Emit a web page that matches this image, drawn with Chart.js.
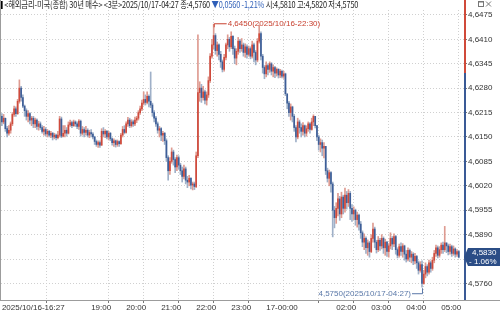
<!DOCTYPE html>
<html>
<head>
<meta charset="utf-8">
<script src="https://cdn.jsdelivr.net/npm/chart.js@4.4.1/dist/chart.umd.min.js"></script>
<style>
html, body { margin: 0; padding: 0; background: #fff; }
#wrap { position: relative; width: 500px; height: 314px; overflow: hidden; }
#title { position: absolute; left: 1px; top: 0px; font: 9px 'Noto Sans CJK KR', sans-serif; color: #222; white-space: nowrap; line-height: 10px; letter-spacing: -0.2px; transform: scaleX(0.815); transform-origin: 0 0; }
#title .mark { display: inline-block; width: 2px; height: 8px; background: #000; margin-right: 2px; vertical-align: -1px; }
#title .dn { color: #2f5fb8; }
</style>
</head>
<body>
<div id="wrap">
  <canvas id="chart" width="500" height="314"></canvas>
  <div id="title"><span class="mark"></span>&lt;해외금리-미국(종합) 30년 매수&gt; &lt;3분&gt;2025/10/17-04:27 종:4,5760 <span class="dn">▼0,0560 -1,21%</span> 시:4,5810 고:4,5820 저:4,5750</div>
</div>
<script>
/* 3-minute candles, 2025/10/16 16:27 onward (one row ~ 10 bars) */

const firstOpen = 4.6205;
const prevClose = 4.6320; // yesterday's close, axis turns red above / blue below
const lastChange = '- 1.06%';
const maxTime = '2025/10/16-22:30';
const minTime = '2025/10/17-04:27';

const closes = [
    4.6190, 4.6200, 4.6172, 4.6160, 4.6168, 4.6185, 4.6210, 4.6225, 4.6212, 4.6245, 4.6280,
    4.6255, 4.6232, 4.6220, 4.6205, 4.6212, 4.6195, 4.6200, 4.6185, 4.6195, 4.6178,
    4.6185, 4.6175, 4.6165, 4.6170, 4.6158, 4.6165, 4.6155, 4.6160, 4.6150, 4.6155,
    4.6148, 4.6155, 4.6198, 4.6152, 4.6160, 4.6168, 4.6160, 4.6182, 4.6188, 4.6180,
    4.6190, 4.6185, 4.6178, 4.6192, 4.6160, 4.6170, 4.6162, 4.6168, 4.6155, 4.6162,
    4.6158, 4.6150, 4.6138, 4.6130, 4.6135, 4.6128, 4.6165, 4.6158, 4.6165, 4.6150,
    4.6160, 4.6145, 4.6135, 4.6140, 4.6130, 4.6138, 4.6132, 4.6155, 4.6170, 4.6162,
    4.6185, 4.6195, 4.6180, 4.6190, 4.6185, 4.6195, 4.6200, 4.6215, 4.6225, 4.6240,
    4.6250, 4.6242, 4.6258, 4.6245, 4.6235, 4.6215, 4.6200, 4.6185, 4.6168, 4.6172,
    4.6155, 4.6160, 4.6140, 4.6095, 4.6060, 4.6085, 4.6110, 4.6090, 4.6070, 4.6095,
    4.6075, 4.6060, 4.6045, 4.6065, 4.6035, 4.6030, 4.6040, 4.6022, 4.6025, 4.6018,
    4.6100, 4.6268, 4.6280, 4.6255, 4.6270, 4.6248, 4.6262, 4.6300, 4.6365, 4.6395,
    4.6420, 4.6380, 4.6395, 4.6370, 4.6350, 4.6330, 4.6362, 4.6395, 4.6410, 4.6390,
    4.6418, 4.6385, 4.6360, 4.6378, 4.6405, 4.6385, 4.6395, 4.6375, 4.6390, 4.6370,
    4.6385, 4.6365, 4.6395, 4.6375, 4.6355, 4.6405, 4.6425, 4.6365, 4.6335, 4.6318,
    4.6340, 4.6330, 4.6345, 4.6325, 4.6335, 4.6320, 4.6330, 4.6315, 4.6325, 4.6312,
    4.6318, 4.6265, 4.6240, 4.6215, 4.6230, 4.6205, 4.6175, 4.6150, 4.6190, 4.6175,
    4.6165, 4.6180, 4.6160, 4.6172, 4.6185, 4.6170, 4.6190, 4.6205, 4.6180, 4.6150,
    4.6130, 4.6135, 4.6120, 4.6125, 4.6060, 4.6040, 4.6055, 4.6025, 4.5955, 4.5935,
    4.5960, 4.5985, 4.5945, 4.5990, 4.5960, 4.5995, 4.5975, 4.6000, 4.5960, 4.5945,
    4.5955, 4.5930, 4.5942, 4.5918, 4.5895, 4.5870, 4.5880, 4.5855, 4.5868, 4.5845,
    4.5880, 4.5905, 4.5870, 4.5850, 4.5875, 4.5860, 4.5880, 4.5855, 4.5870, 4.5845,
    4.5860, 4.5880, 4.5865, 4.5885, 4.5850, 4.5835, 4.5858, 4.5845, 4.5860, 4.5838,
    4.5825, 4.5848, 4.5830, 4.5838, 4.5820, 4.5832, 4.5815, 4.5795, 4.5810, 4.5760,
    4.5785, 4.5805, 4.5790, 4.5815, 4.5800, 4.5822, 4.5840, 4.5855, 4.5835, 4.5850,
    4.5862, 4.5850, 4.5868, 4.5860, 4.5845, 4.5858, 4.5840, 4.5852, 4.5838, 4.5845, 4.5830
];

const highs = [
    4.6212, 4.6210, 4.6200, 4.6178, 4.6180, 4.6190, 4.6215, 4.6232, 4.6230, 4.6250, 4.6302,
    4.6285, 4.6262, 4.6235, 4.6225, 4.6220, 4.6215, 4.6205, 4.6205, 4.6200, 4.6198,
    4.6192, 4.6190, 4.6180, 4.6178, 4.6175, 4.6170, 4.6168, 4.6165, 4.6162, 4.6160,
    4.6158, 4.6165, 4.6205, 4.6203, 4.6180, 4.6180, 4.6175, 4.6190, 4.6195, 4.6192,
    4.6195, 4.6193, 4.6190, 4.6196, 4.6195, 4.6178, 4.6175, 4.6178, 4.6172, 4.6168,
    4.6170, 4.6162, 4.6152, 4.6142, 4.6140, 4.6140, 4.6172, 4.6175, 4.6170, 4.6168,
    4.6165, 4.6162, 4.6148, 4.6145, 4.6142, 4.6142, 4.6140, 4.6160, 4.6178, 4.6180,
    4.6190, 4.6202, 4.6200, 4.6196, 4.6195, 4.6203, 4.6205, 4.6220, 4.6232, 4.6248,
    4.6270, 4.6262, 4.6270, 4.6262, 4.6323, 4.6240, 4.6220, 4.6205, 4.6190, 4.6178,
    4.6175, 4.6165, 4.6162, 4.6145, 4.6100, 4.6095, 4.6121, 4.6115, 4.6095, 4.6102,
    4.6100, 4.6080, 4.6070, 4.6075, 4.6070, 4.6045, 4.6048, 4.6042, 4.6030, 4.6030,
    4.6110, 4.6422, 4.6297, 4.6290, 4.6285, 4.6275, 4.6270, 4.6310, 4.6372, 4.6410,
    4.6450, 4.6425, 4.6403, 4.6398, 4.6378, 4.6355, 4.6370, 4.6400, 4.6422, 4.6415,
    4.6430, 4.6420, 4.6392, 4.6385, 4.6415, 4.6410, 4.6412, 4.6400, 4.6398, 4.6395,
    4.6392, 4.6390, 4.6405, 4.6400, 4.6380, 4.6412, 4.6448, 4.6430, 4.6370, 4.6340,
    4.6350, 4.6345, 4.6350, 4.6348, 4.6342, 4.6338, 4.6334, 4.6332, 4.6330, 4.6328,
    4.6325, 4.6320, 4.6262, 4.6245, 4.6238, 4.6232, 4.6210, 4.6180, 4.6200, 4.6195,
    4.6185, 4.6188, 4.6182, 4.6180, 4.6190, 4.6188, 4.6200, 4.6209, 4.6205, 4.6180,
    4.6155, 4.6145, 4.6142, 4.6135, 4.6125, 4.6067, 4.6062, 4.6058, 4.6030, 4.5965,
    4.5975, 4.6000, 4.5992, 4.6003, 4.5995, 4.6014, 4.6005, 4.6010, 4.6005, 4.5970,
    4.5964, 4.5958, 4.5950, 4.5945, 4.5925, 4.5900, 4.5892, 4.5884, 4.5876, 4.5872,
    4.5890, 4.5921, 4.5910, 4.5875, 4.5885, 4.5880, 4.5890, 4.5884, 4.5878, 4.5872,
    4.5866, 4.5895, 4.5885, 4.5892, 4.5888, 4.5855, 4.5865, 4.5868, 4.5866, 4.5862,
    4.5848, 4.5855, 4.5852, 4.5845, 4.5842, 4.5840, 4.5835, 4.5820, 4.5818, 4.5820,
    4.5795, 4.5815, 4.5810, 4.5822, 4.5820, 4.5830, 4.5848, 4.5862, 4.5860, 4.5858,
    4.5868, 4.5870, 4.5912, 4.5868, 4.5865, 4.5865, 4.5862, 4.5860, 4.5855, 4.5850, 4.5848
];

const lows = [
    4.6180, 4.6185, 4.6165, 4.6150, 4.6155, 4.6160, 4.6180, 4.6205, 4.6205, 4.6210, 4.6240,
    4.6245, 4.6228, 4.6205, 4.6195, 4.6190, 4.6185, 4.6180, 4.6175, 4.6175, 4.6170,
    4.6168, 4.6170, 4.6160, 4.6155, 4.6152, 4.6150, 4.6150, 4.6148, 4.6142, 4.6145,
    4.6142, 4.6145, 4.6150, 4.6148, 4.6150, 4.6150, 4.6152, 4.6158, 4.6178, 4.6175,
    4.6178, 4.6178, 4.6172, 4.6170, 4.6152, 4.6155, 4.6150, 4.6155, 4.6150, 4.6148,
    4.6150, 4.6145, 4.6130, 4.6125, 4.6122, 4.6122, 4.6128, 4.6150, 4.6148, 4.6145,
    4.6142, 4.6140, 4.6128, 4.6125, 4.6123, 4.6125, 4.6125, 4.6130, 4.6150, 4.6158,
    4.6160, 4.6178, 4.6175, 4.6176, 4.6178, 4.6180, 4.6188, 4.6195, 4.6210, 4.6220,
    4.6235, 4.6235, 4.6238, 4.6230, 4.6228, 4.6205, 4.6190, 4.6178, 4.6160, 4.6150,
    4.6140, 4.6138, 4.6130, 4.6085, 4.6035, 4.6050, 4.6080, 4.6075, 4.6055, 4.6060,
    4.6065, 4.6050, 4.6030, 4.6038, 4.6025, 4.6015, 4.6020, 4.6012, 4.6009, 4.6010,
    4.6015, 4.6095, 4.6245, 4.6242, 4.6248, 4.6238, 4.6235, 4.6255, 4.6295, 4.6360,
    4.6385, 4.6370, 4.6365, 4.6355, 4.6335, 4.6323, 4.6325, 4.6355, 4.6385, 4.6378,
    4.6385, 4.6370, 4.6345, 4.6342, 4.6370, 4.6375, 4.6378, 4.6365, 4.6362, 4.6360,
    4.6365, 4.6358, 4.6360, 4.6350, 4.6342, 4.6350, 4.6400, 4.6355, 4.6320, 4.6305,
    4.6310, 4.6315, 4.6322, 4.6315, 4.6310, 4.6308, 4.6312, 4.6307, 4.6308, 4.6307,
    4.6306, 4.6260, 4.6225, 4.6205, 4.6195, 4.6190, 4.6165, 4.6137, 4.6145, 4.6160,
    4.6150, 4.6155, 4.6150, 4.6152, 4.6165, 4.6160, 4.6168, 4.6180, 4.6174, 4.6140,
    4.6115, 4.6110, 4.6100, 4.6094, 4.6050, 4.6030, 4.6020, 4.6003, 4.5884, 4.5908,
    4.5920, 4.5940, 4.5928, 4.5935, 4.5945, 4.5950, 4.5958, 4.5965, 4.5930, 4.5925,
    4.5930, 4.5915, 4.5910, 4.5902, 4.5880, 4.5858, 4.5850, 4.5840, 4.5835, 4.5830,
    4.5842, 4.5870, 4.5855, 4.5841, 4.5845, 4.5848, 4.5852, 4.5840, 4.5835, 4.5832,
    4.5830, 4.5852, 4.5850, 4.5858, 4.5838, 4.5828, 4.5830, 4.5835, 4.5830, 4.5822,
    4.5817, 4.5820, 4.5818, 4.5815, 4.5810, 4.5812, 4.5800, 4.5785, 4.5790, 4.5750,
    4.5758, 4.5775, 4.5780, 4.5785, 4.5790, 4.5795, 4.5815, 4.5832, 4.5828, 4.5830,
    4.5840, 4.5840, 4.5845, 4.5842, 4.5836, 4.5838, 4.5832, 4.5835, 4.5830, 4.5832, 4.5828
];

// bar index of each time label on the bottom axis
const xTickIdx = [0, 51, 71, 91, 111, 131, 151, 171, 191, 211, 231, 251];
const xTickLabels = ['2025/10/16-16:27', '19:00', '20:00', '21:00', '22:00', '23:00',
    '17-00:00', '', '02:00', '03:00', '04:00', '05:00'];
const yTicks = [4.6475, 4.6410, 4.6345, 4.6280, 4.6215, 4.6150, 4.6085,
    4.6020, 4.5955, 4.5890, 4.5825, 4.5760];

// open of each candle is the previous candle's close
const opens = closes.map((c, i) => i === 0 ? firstOpen : closes[i - 1]);
const isUp = i => closes[i] >= opens[i];
const fmt = v => v.toFixed(4).replace('.', ',');

const labelFont = "'Liberation Sans', Arial, sans-serif";
Chart.defaults.font.family = labelFont;

const overlay = {
    id: 'overlay',
    afterDraw(chart) {
        const { ctx, chartArea: a, scales: { x, y } } = chart;
        ctx.save();

        // frame: left edge and bottom axis line
        ctx.strokeStyle = '#9c9c9c';
        ctx.lineWidth = 1;
        ctx.beginPath();
        ctx.moveTo(0.5, 0);
        ctx.lineTo(0.5, a.bottom);
        ctx.moveTo(0, a.bottom + 0.5);
        ctx.lineTo(500, a.bottom + 0.5);
        ctx.stroke();

        // price axis line, red above previous close and blue below
        const ax = a.right + 1;
        const yPrev = y.getPixelForValue(prevClose);
        ctx.lineWidth = 2;
        ctx.strokeStyle = '#d04a3a';
        ctx.beginPath(); ctx.moveTo(ax, 0); ctx.lineTo(ax, yPrev); ctx.stroke();
        ctx.strokeStyle = '#3a5a96';
        ctx.beginPath(); ctx.moveTo(ax, yPrev); ctx.lineTo(ax, a.bottom); ctx.stroke();

        ctx.font = '8px ' + labelFont;
        ctx.textBaseline = 'middle';
        ctx.lineWidth = 1;

        // highest point
        const iMax = highs.indexOf(Math.max(...highs));
        const mx = x.getPixelForValue(iMax);
        const my = y.getPixelForValue(highs[iMax]);
        ctx.strokeStyle = '#c8402f';
        ctx.fillStyle = '#c8402f';
        ctx.beginPath();
        ctx.moveTo(mx + 0.5, my + 3);
        ctx.lineTo(mx + 0.5, my - 0.5);
        ctx.lineTo(mx + 13, my - 0.5);
        ctx.stroke();
        ctx.textAlign = 'left';
        ctx.fillText(fmt(highs[iMax]) + '(' + maxTime + ')', mx + 14, my - 0.5);

        // lowest point
        const iMin = lows.indexOf(Math.min(...lows));
        const nx = x.getPixelForValue(iMin);
        const ny = y.getPixelForValue(lows[iMin]);
        ctx.strokeStyle = '#5a78a8';
        ctx.fillStyle = '#5a78a8';
        ctx.beginPath();
        ctx.moveTo(nx - 10, ny + 6.5);
        ctx.lineTo(nx + 0.5, ny + 6.5);
        ctx.lineTo(nx + 0.5, ny + 1);
        ctx.stroke();
        ctx.textAlign = 'right';
        ctx.fillText(fmt(lows[iMin]) + '(' + minTime + ')', nx - 11, ny + 6.5);

        // last price box
        const last = closes[closes.length - 1];
        const ly = Math.round(y.getPixelForValue(last));
        ctx.fillStyle = '#2b4d86';
        ctx.beginPath();
        ctx.moveTo(a.right, ly);
        ctx.lineTo(a.right + 4, ly - 9);
        ctx.lineTo(500, ly - 9);
        ctx.lineTo(500, ly + 9);
        ctx.lineTo(a.right + 4, ly + 9);
        ctx.closePath();
        ctx.fill();
        ctx.fillStyle = '#fff';
        ctx.textAlign = 'left';
        ctx.fillText(fmt(last), a.right + 8, ly - 4);
        ctx.fillText(lastChange, a.right + 5, ly + 4.5);

        // window icons top right
        ctx.strokeStyle = '#777';
        ctx.strokeRect(478.5, 1.5, 5, 5);
        ctx.beginPath();
        ctx.moveTo(478, 2); ctx.lineTo(484, 2);
        ctx.moveTo(486, 1.5); ctx.lineTo(491, 6.5);
        ctx.moveTo(491, 1.5); ctx.lineTo(486, 6.5);
        ctx.stroke();

        ctx.restore();
    }
};

const idx = closes.map((c, i) => i);

new Chart(document.getElementById('chart'), {
    type: 'bar',
    data: {
        datasets: [
            {
                label: 'body',
                data: idx.map(i => ({ x: i, y: [opens[i], closes[i]] })),
                backgroundColor: c => isUp(c.dataIndex) ? '#cf4a3c' : '#3d5e98',
                barThickness: 1,
                grouped: false
            },
            {
                label: 'wick',
                data: idx.map(i => ({ x: i, y: [lows[i], highs[i]] })),
                backgroundColor: c => isUp(c.dataIndex) ? '#de9b91' : '#9fb0c8',
                barThickness: 1,
                grouped: false
            }
        ]
    },
    options: {
        responsive: false,
        animation: false,
        events: [],
        layout: { padding: { top: 10, left: 1, right: 0, bottom: 0 } },
        plugins: { legend: { display: false }, tooltip: { enabled: false } },
        scales: {
            x: {
                type: 'linear',
                min: -0.5,
                max: 264,
                offset: false,
                afterBuildTicks: s => { s.ticks = xTickIdx.map(v => ({ value: v })); },
                afterFit: s => { s.height = 14; s.paddingLeft = 0; s.paddingRight = 0; },
                ticks: {
                    autoSkip: false,
                    maxRotation: 0,
                    align: 'start',
                    padding: 0,
                    color: '#333',
                    font: { size: 8 },
                    callback: (v, i) => xTickLabels[i]
                },
                grid: {
                    color: c => (c.tick && c.tick.value === 0) ? 'rgba(0,0,0,0)' : '#d0d0d0',
                    tickColor: c => (c.index > 0 && xTickLabels[c.index]) ? '#777' : 'rgba(0,0,0,0)',
                    tickLength: 3
                },
                border: { display: false, dash: [1, 2] }
            },
            y: {
                position: 'right',
                min: 4.5716,
                max: 4.6488,
                afterBuildTicks: s => { s.ticks = yTicks.map(v => ({ value: v })); },
                afterFit: s => { s.width = 36; s.paddingTop = 0; s.paddingBottom = 0; },
                ticks: {
                    padding: 1,
                    color: '#333',
                    font: { size: 8 },
                    callback: v => fmt(v)
                },
                grid: { color: '#d0d0d0', tickColor: '#777', tickLength: 3 },
                border: { display: false, dash: [1, 2] }
            }
        }
    },
    plugins: [overlay]
});
</script>
</body>
</html>
